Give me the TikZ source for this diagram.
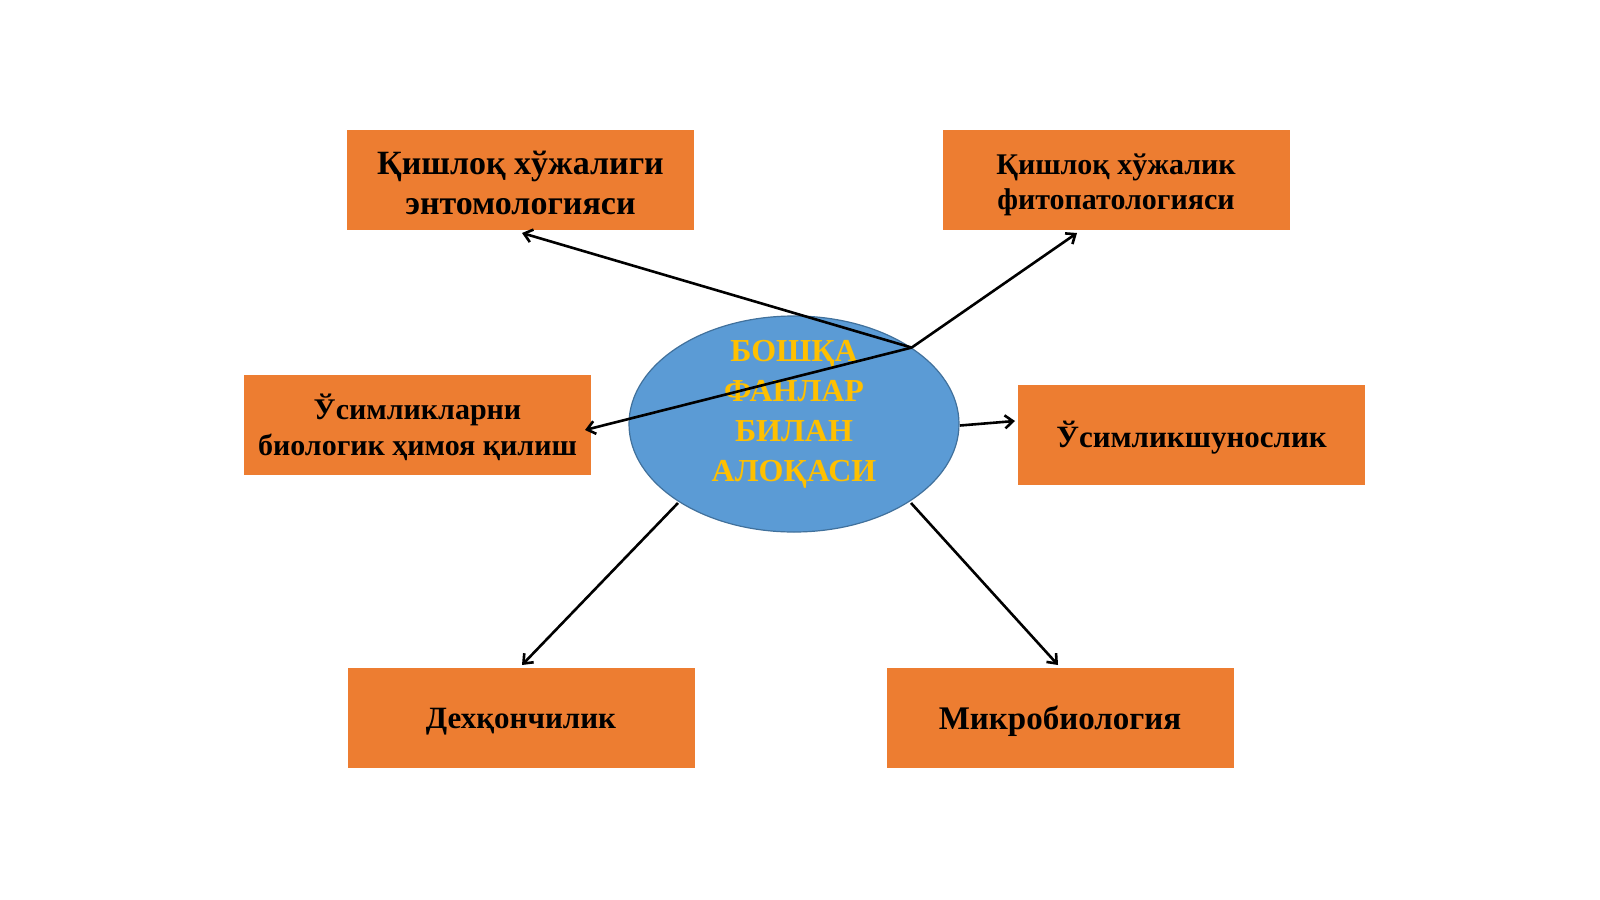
\documentclass[tikz,border=0pt]{standalone}
\usepackage{fontspec}
\setmainfont{Liberation Serif}
\usetikzlibrary{shapes.geometric,arrows.meta}
\definecolor{boxorange}{HTML}{ED7D31}
\definecolor{ellblue}{HTML}{5B9BD5}
\definecolor{ellborder}{HTML}{41719C}
\definecolor{goldtext}{HTML}{FFC000}
\newcommand{\fs}[2]{\fontsize{#1}{#2}\selectfont\bfseries}
\tikzset{
  topicbox/.style={rectangle, fill=boxorange, minimum width=347pt, minimum height=100pt,
    inner sep=0pt},
  topictext/.style={align=center, text=black, inner sep=0pt},
  linkarrow/.style={draw=black, line width=2.6pt, -{Straight Barb[length=8pt,width=13pt]}},
}
\begin{document}
\begin{tikzpicture}[x=1pt,y=-1pt]
\useasboundingbox (0,0) rectangle (1600,899);
\fill[white] (0,0) rectangle (1600,899);

% boxes
\node[topicbox] (tl) at (520.5,179.5) {};
\node[topicbox] (tr) at (1116,179.5) {};
\node[topicbox] (ml) at (417.5,425) {};
\node[topicbox] (mr) at (1191.5,435) {};
\node[topicbox] (bl) at (521,717.5) {};
\node[topicbox] (br) at (1060,717.5) {};

\node[topictext, font=\fs{34}{40}] (tltext) at ([yshift=-3pt]tl.center) {Қишлоқ хўжалиги\\энтомологияси};
\node[topictext, font=\fs{30}{35}] (trtext) at ([yshift=-5pt]tr.center) {Қишлоқ хўжалик\\фитопатологияси};
\node[topictext, font=\fs{30}{36}] (mltext) at ([yshift=-2pt]ml.center) {Ўсимликларни\\биологик ҳимоя қилиш};
\node[topictext, font=\fs{31}{36}] (mrtext) at ([yshift=-3pt]mr.center) {Ўсимликшунослик};
\node[topictext, font=\fs{31}{36}] (bltext) at ([yshift=-4pt]bl.center) {Дехқончилик};
\node[topictext, font=\fs{33}{38}] (brtext) at ([yshift=-4pt]br.center) {Микробиология};

% central ellipse
\node[ellipse, fill=ellblue, draw=ellborder, line width=1.2pt, minimum width=330pt,
  minimum height=216pt, inner sep=0pt] (e) at (794,424) {};
\node[align=center, text=goldtext, font=\fs{32}{40}] (etext) at (794,414)
  {БОШҚА\\ФАНЛАР\\БИЛАН\\АЛОҚАСИ};

% connector end points
\coordinate (p) at (e.33);
\coordinate (tltip) at (522,233);
\coordinate (trtip) at (1077,233);
\coordinate (mltip) at (585,430);
\coordinate (mrstart) at (960,425.5);
\coordinate (mrtip) at (1015,421);
\coordinate (blstart) at (678,503);
\coordinate (bltip) at (522,665);
\coordinate (brstart) at (911,503);
\coordinate (brtip) at (1058,665);

% connectors
\draw[linkarrow] (p) -- (tltip);
\draw[linkarrow] (p) -- (trtip);
\draw[linkarrow] (p) -- (mltip);
\draw[linkarrow] (mrstart) -- (mrtip);
\draw[linkarrow] (blstart) -- (bltip);
\draw[linkarrow] (brstart) -- (brtip);
\end{tikzpicture}
\end{document}
